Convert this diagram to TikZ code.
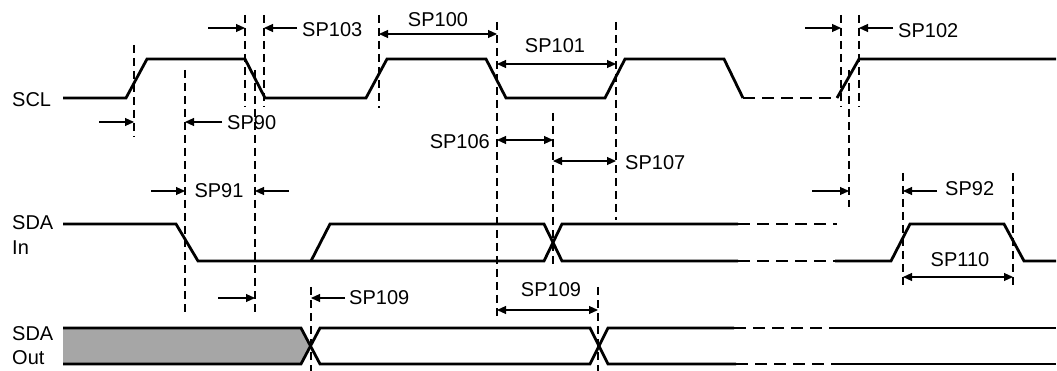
\documentclass[tikz,border=0pt]{standalone}
\usepackage{fontspec}
\setmainfont{Liberation Sans}
\usetikzlibrary{arrows.meta}
\tikzset{
  sig/.style={line width=2.8pt, line join=miter, line cap=butt},
  sigdash/.style={line width=2.8pt, dash pattern=on 12pt off 7pt},
  marker/.style={line width=1.8pt, dash pattern=on 8pt off 5pt},
  dim/.style={line width=1.1pt, -{Triangle[length=9pt,width=8pt]}},
  dimboth/.style={line width=1.1pt, {Triangle[length=9pt,width=8pt]}-{Triangle[length=9pt,width=8pt]}},
  lbl/.style={inner sep=0pt, font=\fontsize{20}{24}\selectfont}
}
\begin{document}
\begin{tikzpicture}[x=1pt,y=-1pt]
\useasboundingbox (0,0) rectangle (1057,371);
% signal labels
\node[lbl,anchor=west] (scl) at (12,100) {SCL};
\node[lbl,anchor=west] (sdain1) at (12,223) {SDA};
\node[lbl,anchor=west] (sdain2) at (12,248) {In};
\node[lbl,anchor=west] (sdaout1) at (12,334) {SDA};
\node[lbl,anchor=west] (sdaout2) at (12,358) {Out};
% SDA Out shaded
\fill[fill={rgb,255:red,166;green,166;blue,166}] (63,328) -- (301,328) -- (310.5,346) -- (301,364) -- (63,364) -- cycle;
% SCL
\draw[sig] (63,98) -- (126,98) -- (147,59) -- (245,59) -- (265,98) -- (366,98) -- (387,59) -- (486,59) -- (506,98) -- (605,98) -- (625,59) -- (724,59) -- (743,98);
\draw[sigdash] (743,98) -- (837,98);
\draw[sig] (837,98) -- (859,59) -- (1056,59);
% SDA In
\draw[sig] (63,224) -- (176,224) -- (198,261) -- (544,261) -- (562,224) -- (738,224);
\draw[sig] (311,261) -- (330,224) -- (544,224) -- (562,261) -- (738,261);
\draw[sigdash] (738,224) -- (837,224);
\draw[sigdash] (738,261) -- (835,261);
\draw[sig] (835,261) -- (891,261) -- (910,224) -- (1004,224) -- (1024,261) -- (1056,261);
% SDA Out
\draw[sig] (63,328) -- (301,328) -- (320,364) -- (590,364) -- (608,328) -- (734,328);
\draw[sig] (63,364) -- (301,364) -- (320,328) -- (590,328) -- (608,364) -- (736,364);
\draw[sigdash] (734,328) -- (831,328);
\draw[sigdash] (736,364) -- (831,364);
\draw[sig] (831,328) -- (1056,328);
\draw[sig] (831,364) -- (1056,364);
% markers
\draw[marker] (134,45) -- (134,137);
\draw[marker] (185,70) -- (185,313);
\draw[marker] (245,15) -- (245,107);
\draw[marker] (255,70) -- (255,312);
\draw[marker] (264,15) -- (264,107);
\draw[marker] (379,15) -- (379,108);
\draw[marker] (497,22) -- (497,317);
\draw[marker] (553,113) -- (553,265);
\draw[marker] (616,22) -- (616,220);
\draw[marker] (841,15) -- (841,107);
\draw[marker] (859,15) -- (859,107);
\draw[marker] (849,70) -- (849,207);
\draw[marker] (903,173) -- (903,287);
\draw[marker] (1013,173) -- (1013,287);
\draw[marker] (311,287) -- (311,371);
\draw[marker] (598,287) -- (598,371);
% dimension arrows
\draw[dim] (99,122) -- (134,122);
\draw[dim] (222,122) -- (185,122);
\node[lbl,anchor=west] (sp90) at (227,123) {SP90};
\draw[dim] (208,28) -- (245,28);
\draw[dim] (297,28) -- (264,28);
\node[lbl,anchor=west] (sp103) at (302,30) {SP103};
\draw[dimboth] (379,34) -- (497,34);
\node[lbl] (sp100) at (438,20) {SP100};
\draw[dimboth] (497,64) -- (616,64);
\node[lbl] (sp101) at (555,46) {SP101};
\draw[dimboth] (497,140) -- (553,140);
\node[lbl,anchor=east] (sp106) at (490,142) {SP106};
\draw[dimboth] (553,161) -- (616,161);
\node[lbl,anchor=west] (sp107) at (625,163) {SP107};
\draw[dim] (805,28) -- (841,28);
\draw[dim] (893,28) -- (859,28);
\node[lbl,anchor=west] (sp102) at (898,31) {SP102};
\draw[dim] (812,191) -- (849,191);
\draw[dim] (151,191) -- (185,191);
\node[lbl] (sp91) at (219,191) {SP91};
\draw[dim] (289,191) -- (255,191);
\draw[dim] (218,298) -- (255,298);
\draw[dim] (345,298) -- (311,298);
\node[lbl,anchor=west] (sp109a) at (349,298) {SP109};
\draw[dimboth] (497,310) -- (598,310);
\node[lbl] (sp109b) at (551,290) {SP109};
\draw[dim] (937,191) -- (903,191);
\node[lbl,anchor=west] (sp92) at (945,189) {SP92};
\draw[dimboth] (903,277) -- (1013,277);
\node[lbl] (sp110) at (960,260) {SP110};
\end{tikzpicture}
\end{document}
